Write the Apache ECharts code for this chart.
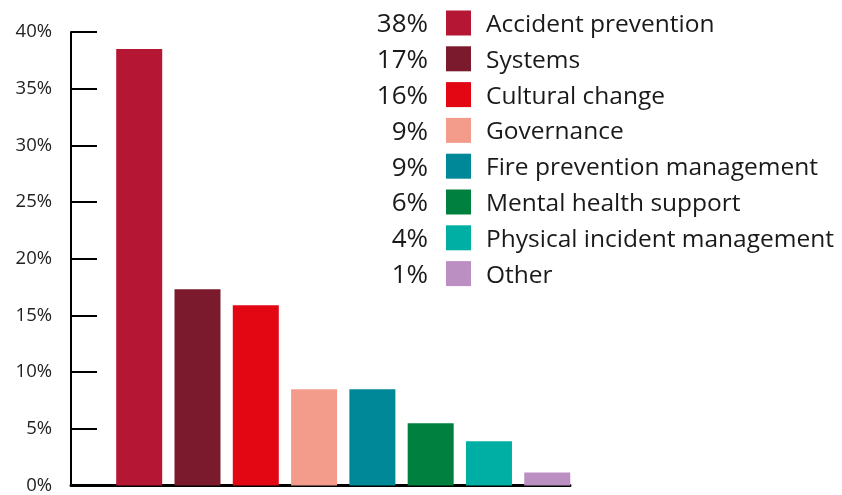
<!DOCTYPE html>
<html>
<head>
<meta charset="utf-8">
<script src="https://cdn.jsdelivr.net/npm/echarts@6/dist/echarts.min.js"></script>
<style>
  html, body { margin: 0; padding: 0; background: #fff; }
  #chart { width: 842px; height: 495px; }
</style>
</head>
<body>
<div id="chart"></div>
<script>
// Share of responses by topic
const categories = [
  'Accident prevention',
  'Systems',
  'Cultural change',
  'Governance',
  'Fire prevention management',
  'Mental health support',
  'Physical incident management',
  'Other'
];
const values = [38.49, 17.3, 15.9, 8.5, 8.5, 5.5, 3.9, 1.15];
const colors = ['#B41634', '#7A1A2C', '#E30613', '#F39C8C', '#008798', '#00803E', '#00AFA3', '#BC8FC2'];
const yTicks = [0, 5, 10, 15, 20, 25, 30, 35, 40];

const FONT = '"Open Sans", "Noto Sans", sans-serif';
const chart = echarts.init(document.getElementById('chart'), null, { renderer: 'canvas' });

// Legend rows: rounded percentage, colour swatch, topic name
const legendTop = 23;
const legendStep = 35.8;
const legendGraphics = [];
categories.forEach((name, i) => {
  const cy = legendTop + i * legendStep;
  legendGraphics.push({
    type: 'text', x: 428, y: cy + 2,
    style: { text: Math.round(values[i]) + '%', font: '26px ' + FONT, fill: '#1a1a1a', textAlign: 'right', textVerticalAlign: 'middle' }
  });
  legendGraphics.push({
    type: 'rect', shape: { x: 446, y: cy - 12.5, width: 25, height: 25 },
    style: { fill: colors[i] }
  });
  legendGraphics.push({
    type: 'text', x: 486, y: cy + 2,
    style: { text: name, font: '24.5px ' + FONT, fill: '#1a1a1a', textAlign: 'left', textVerticalAlign: 'middle' }
  });
});

chart.setOption({
  animation: false,
  backgroundColor: '#fff',
  grid: { left: 71, right: 272, top: 32, bottom: 9, containLabel: false },
  xAxis: {
    type: 'value',
    min: -1.17,
    max: 7.39,
    axisLine: { show: true, onZero: false, lineStyle: { color: '#000', width: 3 } },
    axisTick: { show: false },
    axisLabel: { show: false },
    splitLine: { show: false }
  },
  yAxis: {
    type: 'value',
    min: yTicks[0],
    max: yTicks[yTicks.length - 1],
    interval: yTicks[1] - yTicks[0],
    axisLine: { show: true, onZero: false, lineStyle: { color: '#000', width: 2 } },
    axisTick: { show: true, inside: true, length: 26, lineStyle: { color: '#000', width: 2 } },
    axisLabel: { formatter: '{value}%', color: '#222', fontSize: 18.5, fontFamily: FONT, margin: 19, padding: [5, 0, 0, 0] },
    splitLine: { show: false }
  },
  series: [{
    type: 'bar',
    barWidth: 46,
    data: values.map((v, i) => ({ value: [i, v], itemStyle: { color: colors[i] } }))
  }],
  graphic: legendGraphics
});
</script>
</body>
</html>
